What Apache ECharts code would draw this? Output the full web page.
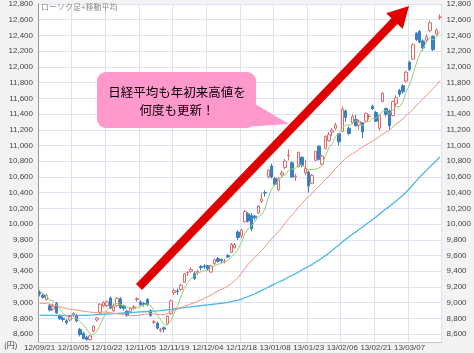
<!DOCTYPE html>
<html><head><meta charset="utf-8">
<script src="https://cdn.jsdelivr.net/npm/echarts@6/dist/echarts.min.js"></script>
<style>html,body{margin:0;padding:0;background:#f3f3f3}#c{width:474px;height:353px}</style>
</head><body><div id="c"></div>
<script>
const dates = ['12/09/21','12/09/24','12/09/25','12/09/26','12/09/27','12/09/28',
'12/10/01','12/10/02','12/10/03','12/10/04','12/10/05','12/10/09','12/10/10','12/10/11','12/10/12','12/10/15','12/10/16','12/10/17','12/10/18','12/10/19','12/10/22','12/10/23','12/10/24','12/10/25','12/10/26','12/10/29','12/10/30','12/10/31',
'12/11/01','12/11/02','12/11/05','12/11/06','12/11/07','12/11/08','12/11/09','12/11/12','12/11/13','12/11/14','12/11/15','12/11/16','12/11/19','12/11/20','12/11/21','12/11/22','12/11/26','12/11/27','12/11/28','12/11/29','12/11/30',
'12/12/03','12/12/04','12/12/05','12/12/06','12/12/07','12/12/10','12/12/11','12/12/12','12/12/13','12/12/14','12/12/17','12/12/18','12/12/19','12/12/20','12/12/21','12/12/25','12/12/26','12/12/27','12/12/28',
'13/01/04','13/01/07','13/01/08','13/01/09','13/01/10','13/01/11','13/01/15','13/01/16','13/01/17','13/01/18','13/01/21','13/01/22','13/01/23','13/01/24','13/01/25','13/01/28','13/01/29','13/01/30','13/01/31',
'13/02/01','13/02/04','13/02/05','13/02/06','13/02/07','13/02/08','13/02/12','13/02/13','13/02/14','13/02/15','13/02/18','13/02/19','13/02/20','13/02/21','13/02/22','13/02/25','13/02/26','13/02/27','13/02/28',
'13/03/01','13/03/04','13/03/05','13/03/06','13/03/07','13/03/08','13/03/11','13/03/12','13/03/13','13/03/14','13/03/15','13/03/18','13/03/19','13/03/21'];

const opens = [9125,9095,9040,8960,8920,8995,8830,8800,8770,8780,
8840,8840,8660,8610,8560,8530,8640,8780,8870,8960,
8960,9060,8900,8960,9050,8960,8890,8880,8940,9040,
9010,8990,9040,8900,8750,8740,8650,8680,8730,8860,
9130,9150,9170,9260,9380,9400,9370,9380,9460,9470,
9470,9390,9500,9560,9550,9520,9600,9640,9700,9900,
9850,10030,10130,10110,10100,10140,10290,10400,10600,10740,
10580,10440,10630,10720,10870,10780,10600,10730,10850,10650,
10660,10520,10810,10990,10760,10960,11060,11170,11220,11150,
11180,11440,11220,11290,11330,11260,11290,11310,11370,11500,
11420,11220,11560,11470,11440,11380,11530,11700,11760,11820,
12060,12100,12430,12450,12330,12340,12460,12390,12420,12630];

const closes = [9110,9069,9091,8906,8950,8870,8797,8786,8746,8824,
8863,8769,8596,8546,8534,8577,8701,8806,8982,9002,
9010,8930,8955,9055,8933,8929,8841,8928,8946,9051,
8975,8975,8972,8837,8757,8676,8661,8664,8829,9024,
9153,9142,9222,9366,9388,9423,9308,9400,9446,9458,
9432,9468,9545,9527,9533,9525,9581,9743,9737,9828,
9923,10160,10039,9940,10080,10230,10322,10395,10688,10599,
10508,10578,10652,10801,10879,10600,10609,10913,10747,10709,
10486,10620,10926,10824,10866,11113,11138,11191,11260,11046,
11463,11357,11153,11369,11251,11307,11173,11407,11372,11468,
11309,11385,11662,11398,11254,11559,11606,11652,11683,11932,
11968,12283,12349,12314,12239,12381,12560,12220,12468,12635];

const lows = [9080,9050,9030,8890,8900,8860,8780,8760,8720,8760,
8820,8750,8570,8530,8515,8515,8620,8760,8860,8940,
8940,8920,8880,8950,8920,8900,8820,8860,8910,9010,
8960,8950,8960,8820,8730,8660,8620,8620,8720,8850,
9100,9100,9150,9250,9340,9380,9290,9350,9410,9430,
9410,9380,9480,9510,9500,9500,9570,9630,9690,9800,
9820,10020,10020,9910,10050,10130,10270,10350,10580,10580,
10490,10420,10590,10700,10810,10590,10550,10720,10720,10620,
10400,10510,10800,10810,10750,10950,11050,11120,11200,11000,
11170,11300,11130,11270,11240,11200,11090,11300,11330,11450,
11300,11190,11550,11370,11200,11370,11500,11620,11660,11800,
11950,12090,12330,12300,12200,12300,12440,12200,12400,12600];

const highs = [9160,9120,9110,8990,8990,9010,8850,8820,8790,8840,
8880,8860,8680,8630,8580,8590,8710,8820,8990,9020,
9030,9080,8990,9070,9070,8975,8910,8940,8970,9070,
9030,9010,9060,8920,8780,8760,8680,8700,8840,9040,
9180,9180,9240,9380,9400,9450,9400,9420,9480,9490,
9480,9480,9560,9580,9560,9560,9620,9760,9760,9920,
9940,10180,10150,10140,10120,10240,10400,10430,10700,10770,
10600,10600,10680,10830,10950,10800,10640,10920,10860,10820,
10680,10640,10930,11000,10880,11130,11170,11220,11290,11160,
11500,11460,11240,11400,11390,11330,11300,11420,11400,11520,
11440,11400,11680,11480,11460,11570,11640,11720,11780,11950,
12080,12300,12440,12470,12350,12420,12590,12400,12490,12670];

const ma5 = [9150,9115,9098,9032,9025,8977,8923,8862,8830,8805,
8803,8798,8760,8720,8662,8604,8591,8633,8720,8814,
8900,8946,8976,8990,8977,8960,8943,8937,8915,8939,
8948,8975,8984,8962,8903,8843,8781,8719,8717,8771,
8866,8962,9074,9181,9254,9308,9341,9377,9393,9407,
9409,9441,9470,9486,9501,9520,9542,9582,9624,9683,
9762,9878,9937,9978,10028,10090,10122,10193,10343,10447,
10502,10554,10605,10628,10684,10702,10708,10760,10750,10716,
10693,10695,10698,10713,10744,10870,10973,11026,11114,11150,
11220,11263,11256,11278,11319,11287,11251,11301,11302,11345,
11346,11388,11439,11444,11402,11452,11496,11494,11551,11686,
11768,11904,12043,12169,12231,12313,12369,12343,12374,12453];

const ma25 = [8996,8992,8989,8979,8972,8960,8949,8937,8925,8916,
8911,8908,8900,8891,8886,8881,8875,8872,8879,8881,
8881,8872,8866,8858,8856,8849,8840,8833,8835,8839,
8843,8850,8858,8861,8859,8851,8847,8850,8861,8881,
8904,8921,8938,8953,8969,8985,9000,9018,9034,9055,
9075,9100,9125,9148,9167,9189,9213,9244,9280,9323,
9373,9433,9488,9532,9575,9618,9665,9712,9765,9813,
9857,9907,9957,10012,10069,10115,10161,10216,10264,10311,
10350,10391,10439,10482,10524,10571,10610,10657,10709,10748,
10797,10839,10869,10896,10922,10954,10978,11008,11031,11055,
11083,11114,11144,11170,11192,11235,11274,11303,11338,11380,
11415,11460,11507,11549,11597,11633,11681,11724,11768,11823];

const ma75 = [8840,8839,8839,8838,8838,8837,8837,8836,8836,8837,
8838,8838,8839,8839,8840,8842,8844,8847,8850,8853,
8856,8859,8862,8864,8867,8869,8871,8873,8876,8879,
8882,8885,8888,8891,8894,8897,8900,8904,8909,8914,
8920,8926,8932,8937,8943,8948,8953,8958,8964,8969,
8973,8977,8982,8987,8993,8997,9004,9013,9022,9033,
9045,9063,9079,9095,9114,9134,9154,9174,9199,9221,
9241,9260,9280,9301,9327,9346,9367,9391,9416,9439,
9461,9485,9514,9541,9569,9599,9630,9665,9701,9734,
9773,9808,9840,9871,9901,9932,9962,9995,10026,10059,
10091,10125,10161,10194,10224,10258,10293,10329,10367,10409,
10453,10501,10550,10597,10640,10683,10728,10768,10810,10853];

const xTickLabels = ['12/09/21','12/10/05','12/10/22','12/11/05','12/11/19','12/12/04','12/12/18','13/01/08','13/01/23','13/02/06','13/02/21','13/03/07'];
const yTickValues = [8600,8800,9000,9200,9400,9600,9800,10000,10200,10400,10600,10800,11000,11200,11400,11600,11800,12000,12200,12400,12600,12800];

const candles = dates.map((d, i) => [opens[i], closes[i], lows[i], highs[i]]);
const GRID = '#dde3f2';
const fmtY = v => yTickValues.includes(v) ? v.toLocaleString('en-US') : '';
const showX = (i, v) => xTickLabels.includes(v);

// arrow geometry (annotation)
const S = [139, 287], T = [409, 6];
const L = Math.hypot(T[0]-S[0], T[1]-S[1]);
const u = [(T[0]-S[0])/L, (T[1]-S[1])/L], n = [-u[1], u[0]];
const hw = 4.2, hl = 21, hh = 11.5;
const B = [T[0]-hl*u[0], T[1]-hl*u[1]];
const P = (c, k) => [c[0]+k*n[0], c[1]+k*n[1]];
const arrowPts = [P(S,-hw), P(B,-hw), P(B,-hh), T, P(B,hh), P(B,hw), P(S,hw)];

const chart = echarts.init(document.getElementById('c'), null, {renderer: 'canvas'});
chart.setOption({
  backgroundColor: '#f3f3f3',
  animation: false,
  textStyle: {fontFamily: '"Liberation Sans", Arial, sans-serif'},
  grid: {left: 38, right: 32, top: 3, bottom: 11, show: true, backgroundColor: '#ffffff', borderWidth: 0},
  xAxis: {
    type: 'category', data: dates, boundaryGap: true,
    axisLine: {show: true, lineStyle: {color: '#c8c8c8'}},
    axisTick: {show: false},
    axisLabel: {interval: showX, fontSize: 8, color: '#444', margin: 2},
    splitLine: {show: true, interval: showX, lineStyle: {color: GRID, width: 1}}
  },
  yAxis: [{
    type: 'value', min: 8500, max: 12800, interval: 100, position: 'left',
    axisLine: {show: true, lineStyle: {color: '#999'}},
    axisTick: {show: false},
    axisLabel: {formatter: fmtY, fontSize: 8, color: '#444', margin: 5},
    splitLine: {show: true, lineStyle: {color: ['rgba(0,0,0,0)', GRID], width: 1}}
  }, {
    type: 'value', min: 8500, max: 12800, interval: 100, position: 'right',
    axisLine: {show: false}, axisTick: {show: false},
    axisLabel: {formatter: fmtY, fontSize: 8, color: '#444', margin: 5},
    splitLine: {show: false}
  }],
  series: [{
    type: 'candlestick', data: candles, barWidth: 3,
    itemStyle: {color: '#ffffff', color0: '#3a7fc1', borderColor: '#e26a6a', borderColor0: '#3a7fc1', borderWidth: 1}
  }, {
    type: 'line', data: ma75, symbol: 'none', lineStyle: {color: '#4db5e8', width: 1.3}
  }, {
    type: 'line', data: ma25, symbol: 'none', lineStyle: {color: '#f2907e', width: 1}
  }, {
    type: 'line', data: ma5, symbol: 'none', lineStyle: {color: '#98cf6e', width: 1}
  }],
  graphic: [
    {type: 'text', left: 41, top: 3, z: 10, style: {text: 'ローソク足+移動平均', font: '8px "Noto Sans CJK JP"', fill: '#8a8a8a'}},
    {type: 'text', left: 4, top: 341, z: 10, style: {text: '(円)', font: '8px "Noto Sans CJK JP"', fill: '#333'}},
    {type: 'polygon', z: 20, shape: {points: arrowPts}, style: {fill: '#e00000'}},
    {type: 'polygon', z: 21, shape: {points: [[250, 101], [289, 124], [244, 127]]}, style: {fill: '#ff99cc'}},
    {type: 'rect', z: 21, shape: {x: 97, y: 72, width: 159, height: 56, r: 9}, style: {fill: '#ff99cc'}},
    {type: 'text', z: 22, x: 177, y: 101, style: {text: '日経平均も年初来高値を\n何度も更新！', font: '12.5px "Noto Sans CJK JP"', fill: '#000', align: 'center', verticalAlign: 'middle', lineHeight: 18}}
  ]
});
</script></body></html>
